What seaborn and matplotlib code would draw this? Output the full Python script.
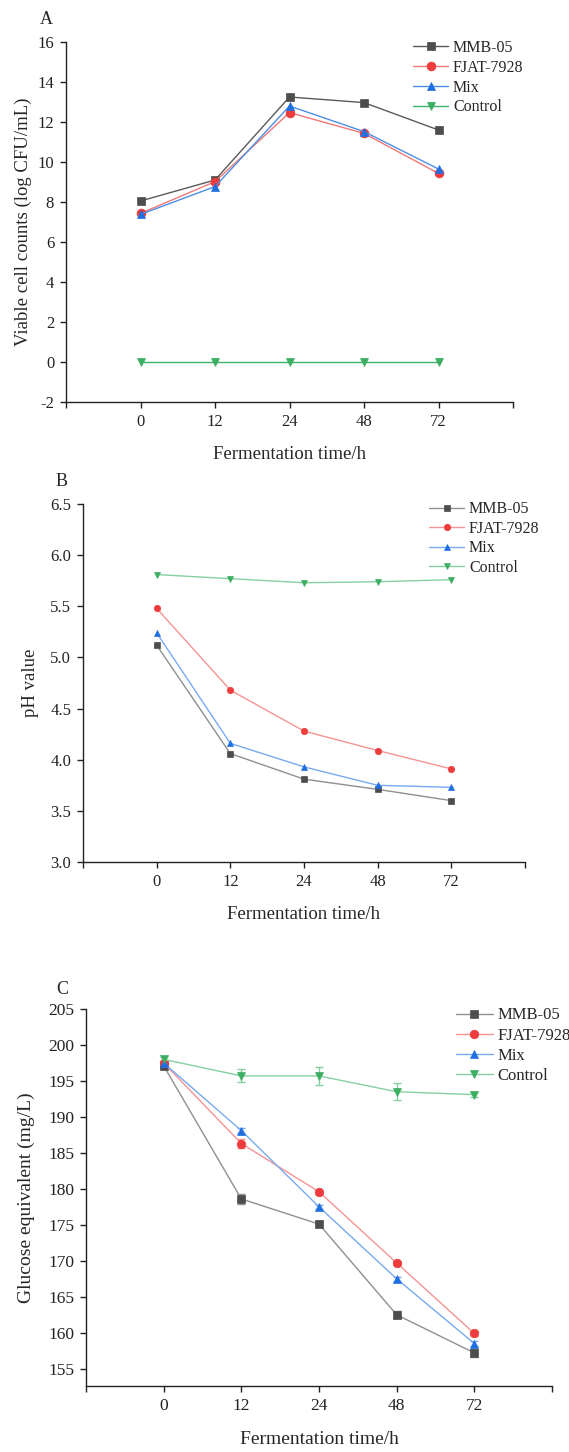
import numpy as np
import pandas as pd
import matplotlib
matplotlib.use("Agg")
import matplotlib.pyplot as plt
import seaborn as sns

sns.set_style("ticks")
plt.rcParams['font.family'] = ['Liberation Serif', 'DejaVu Serif']
plt.rcParams['axes.unicode_minus'] = False

# ---------------- data ----------------
time_labels = ['0', '12', '24', '48', '72']
series = ['MMB-05', 'FJAT-7928', 'Mix', 'Control']

viable_mmb = [8.05, 9.10, 13.25, 12.97, 11.60]
viable_fjat = [7.43, 9.02, 12.47, 11.43, 9.43]
viable_mix = [7.38, 8.77, 12.80, 11.52, 9.65]
viable_ctrl = [0.0, 0.0, 0.0, 0.0, 0.0]

ph_mmb = [5.12, 4.06, 3.81, 3.71, 3.60]
ph_fjat = [5.48, 4.68, 4.28, 4.09, 3.91]
ph_mix = [5.24, 4.16, 3.93, 3.75, 3.73]
ph_ctrl = [5.81, 5.77, 5.73, 5.74, 5.76]

glu_mmb = [197.1, 178.6, 175.1, 162.5, 157.2]
glu_fjat = [197.5, 186.3, 179.6, 169.7, 159.9]
glu_mix = [197.5, 188.1, 177.5, 167.5, 158.5]
glu_ctrl = [198.0, 195.7, 195.7, 193.5, 193.1]

glu_mmb_err = [0.3, 0.7, 0.4, 0.5, 0.6]
glu_fjat_err = [0.3, 0.6, 0.3, 0.3, 0.4]
glu_mix_err = [0.3, 0.3, 0.3, 0.3, 0.3]
glu_ctrl_err = [0.3, 0.9, 1.3, 1.2, 0.3]

# ---------------- styles ----------------
marker_colors = ['#4d4d4d', '#ee3b3b', '#1f6fe0', '#3cae62']
line_colors = ['#8f8f8f', '#f59393', '#78aaf0', '#86d0a0']
line_colors_A = ['#5a5a5a', '#f07878', '#4d8ee8', '#3cb36a']
markers = ['s', 'o', '^', 'v']

W, H = 569, 1452
fig = plt.figure(figsize=(W / 100, H / 100), dpi=100)


def axes_px(left, right, top, bottom):
    return fig.add_axes([left / W, 1 - bottom / H, (right - left) / W, (bottom - top) / H])


def draw(ax, data, lcolors, msize, tfs, errs=None):
    pos = np.arange(1, len(time_labels) + 1)
    for i, (name, vals) in enumerate(zip(series, data)):
        if errs is not None:
            ax.errorbar(pos, vals, yerr=errs[i], fmt='none', ecolor=lcolors[i],
                        elinewidth=1.0, capsize=3, capthick=1.0, zorder=2)
        ms = msize * (1.1 if markers[i] in ('o', '^', 'v') else 1.0)
        sns.lineplot(x=pos, y=vals, ax=ax, color=lcolors[i], marker=markers[i],
                     markersize=ms, markerfacecolor=marker_colors[i],
                     markeredgecolor=marker_colors[i], markeredgewidth=0.5,
                     linewidth=1.0, label=name, zorder=3)
    ax.set_xlim(0, 6)
    ax.set_xticks(range(7))
    ax.set_xticklabels([''] + time_labels + [''])
    sns.despine(ax=ax)
    ax.tick_params(direction='out', length=4.5, width=1, pad=4, labelsize=tfs,
                   colors='#222222')
    for s in ['left', 'bottom']:
        ax.spines[s].set_linewidth(1.0)
        ax.spines[s].set_color('#222222')


def labels(ax, xl, yl, xly, ylx, xfs, yfs):
    ax.set_xlabel(xl, fontsize=xfs)
    ax.set_ylabel(yl, fontsize=yfs)
    ax.xaxis.set_label_coords(0.5, xly)
    ax.xaxis.label.set_va('center')
    ax.yaxis.set_label_coords(ylx, 0.5)
    ax.yaxis.label.set_va('center')


def legend(ax, x, y, fs, sp):
    ax.legend(loc='upper left', bbox_to_anchor=(x, y), frameon=False,
              fontsize=fs, handlelength=2.2, handletextpad=0.3, labelspacing=sp,
              borderpad=0, borderaxespad=0)


# ---------- Panel A ----------
axA = axes_px(66, 513, 42, 402)
draw(axA, [viable_mmb, viable_fjat, viable_mix, viable_ctrl], line_colors_A, 5.8, 12)
axA.set_ylim(-2, 16)
axA.set_yticks(range(-2, 17, 2))
labels(axA, 'Fermentation time/h', 'Viable cell counts (log CFU/mL)', -0.147, -0.095, 13.5, 13.5)
legend(axA, (413 - 66) / 447, 1.006, 11.5, 0.24)
fig.text(46.5 / W, 1 - 20 / H, 'A', fontsize=13, ha='center', va='center')

# ---------- Panel B ----------
axB = axes_px(83, 525, 504, 862)
draw(axB, [ph_mmb, ph_fjat, ph_mix, ph_ctrl], line_colors, 4.2, 12)
axB.set_ylim(3.0, 6.5)
yb = np.arange(3.0, 6.51, 0.5)
axB.set_yticks(yb)
axB.set_yticklabels([f'{v:.1f}' for v in yb])
labels(axB, 'Fermentation time/h', 'pH value', -0.148, -0.118, 13.5, 13.5)
legend(axB, (429 - 83) / 442, 1.008, 11.5, 0.22)
fig.text(62 / W, 1 - 482 / H, 'B', fontsize=13, ha='center', va='center')

# ---------- Panel C ----------
axC = axes_px(86, 552, 1009, 1386)
draw(axC, [glu_mmb, glu_fjat, glu_mix, glu_ctrl], line_colors, 5.6, 12.5,
     errs=[glu_mmb_err, glu_fjat_err, glu_mix_err, glu_ctrl_err])
axC.set_ylim(152.6, 205)
axC.set_yticks(range(155, 206, 5))
labels(axC, 'Fermentation time/h', 'Glucose equivalent (mg/L)', -0.141, -0.127, 14, 14)
legend(axC, (456 - 86) / 466, 1.004, 12, 0.25)
fig.text(62 / W, 1 - 990 / H, 'C', fontsize=13, ha='center', va='center')

fig.savefig('out.png', dpi=100, facecolor='white')
